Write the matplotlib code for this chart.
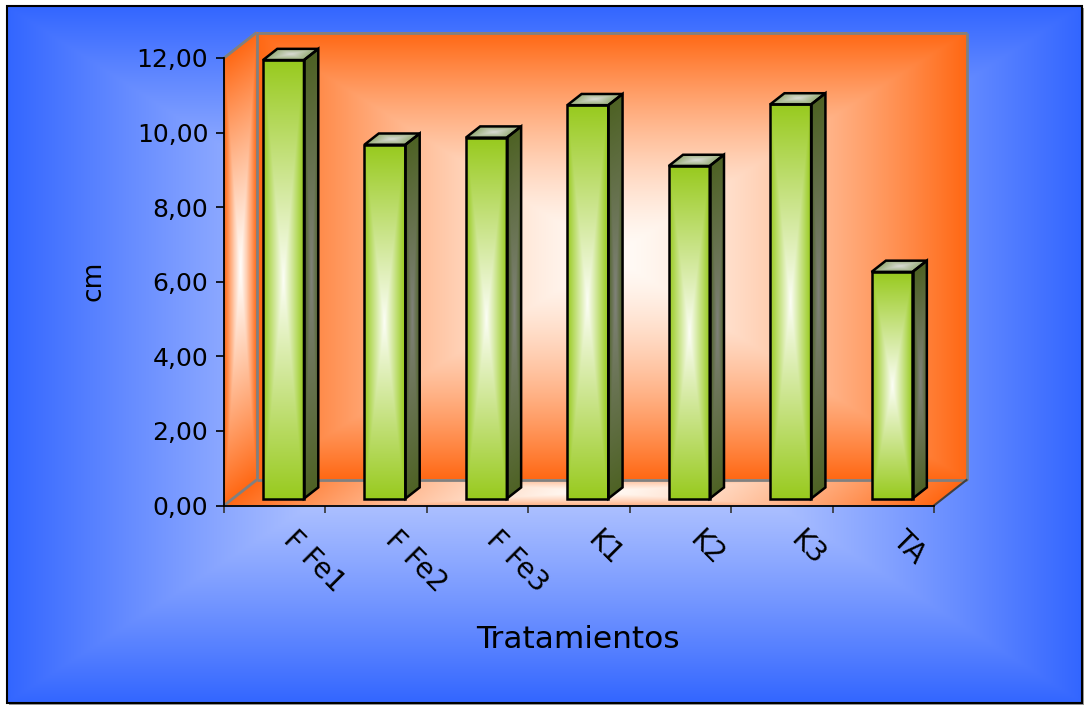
import numpy as np
import matplotlib
matplotlib.use("Agg")
import matplotlib.pyplot as plt
from matplotlib.patches import Polygon, Rectangle
from matplotlib.transforms import Affine2D, ScaledTranslation

# ---- data -------------------------------------------------------------
categories = ["F Fe1", "F Fe2", "F Fe3", "K1", "K2", "K3", "TA"]
values = [11.76, 9.49, 9.68, 10.55, 8.92, 10.57, 6.08]
y_ticks = [0, 2, 4, 6, 8, 10, 12]
y_tick_labels = ["0,00", "2,00", "4,00", "6,00", "8,00", "10,00", "12,00"]
x_title = "Tratamientos"
y_title = "cm"

# ---- style ------------------------------------------------------------
W, H, DPI = 1084, 705, 100
BLUE_EDGE, BLUE_CENTER = (51, 102, 255), (238, 241, 255)
ORANGE_EDGE, ORANGE_CENTER = (255, 104, 20), (255, 252, 248)
FRONT_EDGE, FRONT_CENTER = (152, 202, 30), (252, 254, 246)
SIDE_EDGE, SIDE_CENTER = (78, 98, 36), (128, 130, 122)
TOP_EDGE, TOP_CENTER = (150, 172, 118), (218, 220, 214)
WALL_LINE = "#808080"
DEPTH_PX = (32.5, 25.5)        # oblique depth of the chart box, in pixels
BAR_DEPTH = (0.27, 0.71)       # front / back of the bars as fraction of depth
BAR_WIDTH = 0.404              # in category units


def box_gradient(edge, center, nx, ny, power=1.0, wu=1.0, wv=1.0):
    """Rectangular 'from centre' gradient (RGBA): centre colour fading to edge colour."""
    u = np.linspace(-1, 1, nx)
    v = np.linspace(-1, 1, ny)
    U, V = np.meshgrid(u, v)
    t = np.clip(np.maximum(np.abs(U) * wu, np.abs(V) * wv), 0, 1) ** power
    e = np.array(edge, float) / 255
    c = np.array(center, float) / 255
    rgb = c * (1 - t)[..., None] + e * t[..., None]
    return np.dstack([rgb, np.ones((ny, nx))])


fig = plt.figure(figsize=(W / DPI, H / DPI), dpi=DPI)
fig.patch.set_facecolor("white")

# ---- chart area background -------------------------------------------
bg = fig.add_axes([0, 0, 1, 1])
bg.set_axis_off()
bg.set_xlim(0, 1)
bg.set_ylim(0, 1)
bx0, bx1 = 7 / W, 1082 / W
by0, by1 = 2 / H, 699 / H
bg.add_patch(Rectangle((bx0 + 2 / W, by0 - 2 / H), bx1 - bx0, by1 - by0,
                       facecolor="#9a9a9a", edgecolor="none", zorder=0))
bg.imshow(box_gradient(BLUE_EDGE, BLUE_CENTER, 420, 280, power=1.25),
          extent=(bx0, bx1, by0, by1), aspect="auto",
          interpolation="bilinear", zorder=1)
bg.add_patch(Rectangle((bx0, by0), bx1 - bx0, by1 - by0, facecolor="none",
                       edgecolor="black", lw=1.5, zorder=2))

# ---- plot axes (front plane of the 3-D box) --------------------------
ax = fig.add_axes([224 / W, (H - 505.5) / H, 710 / W, 447.5 / H])
ax.patch.set_visible(False)
n = len(categories)
ax.set_xlim(0, n)
ax.set_ylim(0, 12)
px_x = 710 / n
px_y = 447.5 / 12
DX, DY = DEPTH_PX[0] / px_x, DEPTH_PX[1] / px_y


def affine_image(img, origin, a, b, z):
    """Draw img on the parallelogram origin + u*a + v*b (u, v in [0, 1])."""
    m = np.array([[a[0], b[0], origin[0]],
                  [a[1], b[1], origin[1]],
                  [0, 0, 1]])
    ax.imshow(img, extent=(0, 1, 0, 1), origin="lower", aspect="auto",
              transform=Affine2D(m) + ax.transData, interpolation="bilinear",
              clip_on=False, zorder=z)


# back wall
affine_image(box_gradient(ORANGE_EDGE, ORANGE_CENTER, 300, 200, power=1.45),
             (DX, DY), (n, 0), (0, 12), 0.2)
# side wall
affine_image(box_gradient(ORANGE_EDGE, ORANGE_CENTER, 40, 300, power=1.2),
             (0, 0), (DX, DY), (0, 12), 0.2)
# floor
affine_image(box_gradient(ORANGE_EDGE, ORANGE_CENTER, 300, 40, power=1.3,
                          wv=0.55),
             (0, 0), (n, 0), (DX, DY), 0.3)

wall_lines = [
    ((DX, DY), (n + DX, DY)), ((DX, 12 + DY), (n + DX, 12 + DY)),
    ((DX, DY), (DX, 12 + DY)), ((n + DX, DY), (n + DX, 12 + DY)),
    ((0, 12), (DX, 12 + DY)), ((0, 0), (DX, DY)),
]
for p, q in wall_lines:
    ax.plot([p[0], q[0]], [p[1], q[1]], color=WALL_LINE, lw=2,
            clip_on=False, zorder=0.5, solid_capstyle="butt")
ax.plot([n, n + DX], [0, DY], color="#404040", lw=1.5, clip_on=False,
        zorder=0.5)

# ---- bars ---------------------------------------------------------------
fx, fy = BAR_DEPTH[0] * DX, BAR_DEPTH[0] * DY
bdx, bdy = (BAR_DEPTH[1] - BAR_DEPTH[0]) * DX, (BAR_DEPTH[1] - BAR_DEPTH[0]) * DY
front_img = box_gradient(FRONT_EDGE, FRONT_CENTER, 80, 300)
side_img = box_gradient(SIDE_EDGE, SIDE_CENTER, 40, 300)
top_img = box_gradient(TOP_EDGE, TOP_CENTER, 80, 40)
outline = dict(fill=False, edgecolor="black", lw=1.8, joinstyle="miter",
               clip_on=False)

for i, val in enumerate(values):
    x0 = i + 0.5 - BAR_WIDTH / 2 + fx
    x1 = x0 + BAR_WIDTH
    y0, y1 = fy, fy + val
    z = 3 + i * 0.1
    affine_image(front_img, (x0, y0), (BAR_WIDTH, 0), (0, val), z)
    affine_image(side_img, (x1, y0), (bdx, bdy), (0, val), z)
    affine_image(top_img, (x0, y1), (BAR_WIDTH, 0), (bdx, bdy), z)
    ax.add_patch(Polygon([(x0, y0), (x1, y0), (x1, y1), (x0, y1)],
                         zorder=z + 0.05, **outline))
    ax.add_patch(Polygon([(x1, y0), (x1 + bdx, y0 + bdy),
                          (x1 + bdx, y1 + bdy), (x1, y1)],
                         zorder=z + 0.05, **outline))
    ax.add_patch(Polygon([(x0, y1), (x1, y1), (x1 + bdx, y1 + bdy),
                          (x0 + bdx, y1 + bdy)],
                         zorder=z + 0.05, **outline))

ax.set_xlim(0, n)
ax.set_ylim(0, 12)

# ---- axes -----------------------------------------------------------------
for side in ("top", "right"):
    ax.spines[side].set_visible(False)
ax.spines["left"].set_color("black")
ax.spines["left"].set_linewidth(1.3)
ax.spines["bottom"].set_color("black")
ax.spines["bottom"].set_linewidth(1.3)
ax.spines["left"].set_zorder(2)
ax.spines["bottom"].set_zorder(2)

ax.set_yticks(y_ticks)
ax.set_yticklabels(y_tick_labels)
ax.tick_params(axis="y", length=5.8, width=1.2, pad=5.5, labelsize=18,
               colors="black")
ax.set_xticks(np.arange(n + 1))
ax.set_xticklabels([])
ax.tick_params(axis="x", length=5, width=1.2, color="#333333")

label_shift = ScaledTranslation(23 / DPI, -20 / DPI, fig.dpi_scale_trans)
for i, name in enumerate(categories):
    ax.text(i + 0.5, 0, name, rotation=-45, rotation_mode="anchor",
            ha="left", va="top", fontsize=20,
            transform=ax.transData + label_shift, clip_on=False)

fig.text(94 / W, 1 - 281 / H, y_title, rotation=90, ha="center",
         va="center", fontsize=19)
fig.text(578 / W, 1 - 640 / H, x_title, ha="center", va="center",
         fontsize=22.5)

fig.savefig("out.png", dpi=DPI)
